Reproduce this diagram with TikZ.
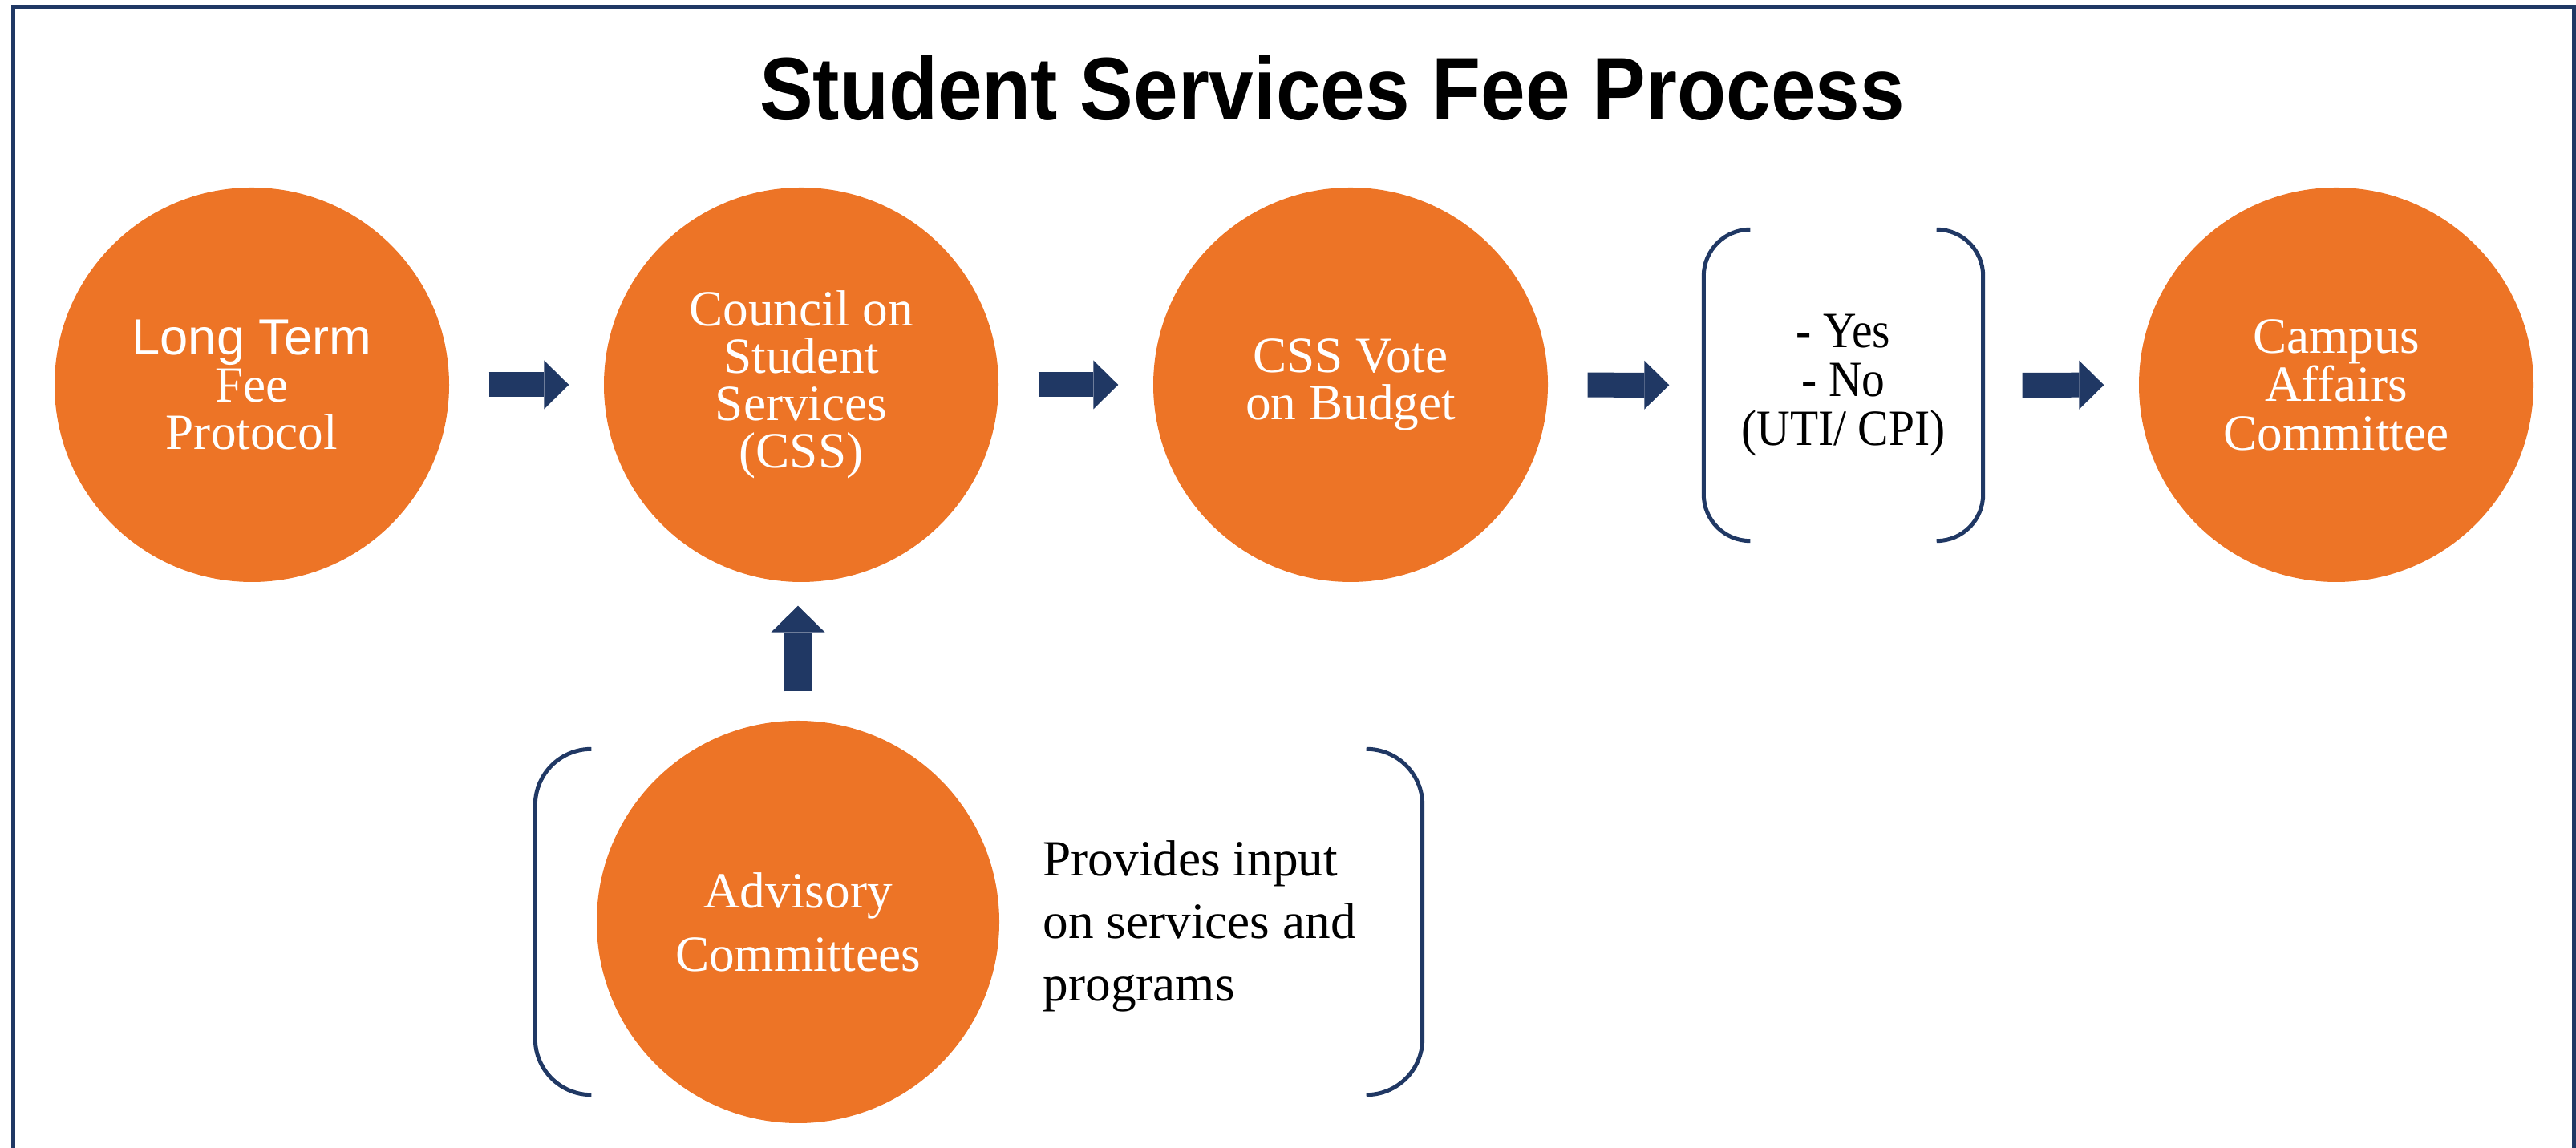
\documentclass[tikz,border=0pt]{standalone}
\usepackage{fontspec}
\setmainfont{Liberation Serif}
\setsansfont{Liberation Sans}
\newfontfamily\titlefont[FakeStretch=0.9]{Liberation Sans Bold}
\newfontfamily\narrowserif[FakeStretch=0.91]{Liberation Serif}
\usepackage{tikz}
\usetikzlibrary{arrows.meta}
\definecolor{feeorange}{HTML}{ED7426}
\definecolor{feenavy}{HTML}{203864}
\tikzset{
  stage/.style={circle, fill=feeorange, text=white, inner sep=0pt, minimum size=4.92cm, align=center, font=\fontsize{18}{16.8}\selectfont},
  flow/.style={draw=feenavy, line width=0.31cm, -{Triangle[width=0.61cm, length=0.31cm, line width=0pt]}, shorten <=0.49cm, shorten >=0.43cm},
  flowup/.style={draw=feenavy, line width=0.34cm, -{Triangle[width=0.67cm, length=0.33cm, line width=0pt]}, shorten <=0.36cm, shorten >=0.29cm},
  bracket/.style={draw=feenavy, line width=0.05cm}
}

\begin{document}
\begin{tikzpicture}

\useasboundingbox (0,0) rectangle (32.12,14.32);
\draw [feenavy, line width=0.05cm](0.16,0) -- (0.16,14.23) -- (32.095,14.23) -- (32.095,0);

\node [anchor=base, font=\titlefont\fontsize{31.6}{36}\selectfont] (title) at (16.61,12.82) {Student Services Fee Process};

\node [stage] (protocol) at (3.14,9.52) {{\sffamily Long Term}\\Fee\\Protocol};
\node [stage] (council) at (9.99,9.52) {Council on\\Student\\Services\\(CSS)};
\node [stage] (budget) at (16.84,9.52) {CSS Vote\\on Budget};
\node [minimum width=3.47cm, minimum height=3.87cm, inner sep=0pt, align=center, font=\narrowserif\fontsize{18}{17.4}\selectfont] (vote) at (22.985,9.515) {- Yes\\- No\\(UTI/ CPI)};
\node [stage, font=\fontsize{18}{17.2}\selectfont] (campus) at (29.13,9.52) {Campus\\Affairs\\Committee};

\node [minimum width=11.05cm, minimum height=4.30cm, inner sep=0pt] (panel) at (12.205,2.82) {};
\node [stage, minimum size=5.02cm, font=\fontsize{18}{22.5}\selectfont] (advisory) at (9.95,2.82) {Advisory\\Committees};
\node [anchor=west, align=left, inner sep=0pt, font=\fontsize{18}{22.2}\selectfont] (input) at (13.00,2.765) {Provides input\\on services and\\programs};

\draw [flow](protocol) -- (council);
\draw [flow](council) -- (budget);
\draw [flow](budget) -- (vote);
\draw [flow](vote) -- (campus);
\draw [flowup](advisory.north) -- (advisory.north |- council.south);

\foreach \grp/\rad in {vote/0.58, panel/0.70}{
  \draw [bracket]([xshift=\rad cm]\grp.north west) arc[start angle=90, end angle=180, radius=\rad cm] -- ([yshift=\rad cm]\grp.south west) arc[start angle=180, end angle=270, radius=\rad cm];
  \draw [bracket]([xshift=-\rad cm]\grp.north east) arc[start angle=90, end angle=0, radius=\rad cm] -- ([yshift=\rad cm]\grp.south east) arc[start angle=0, end angle=-90, radius=\rad cm];
}

\end{tikzpicture}
\end{document}
